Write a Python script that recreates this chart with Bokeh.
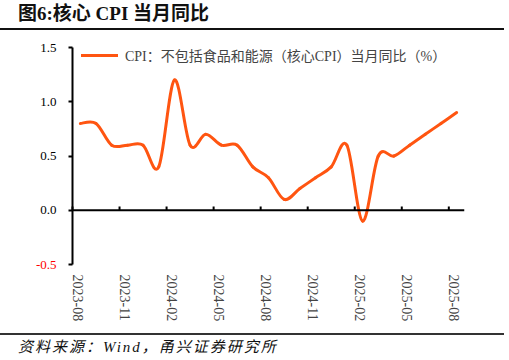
import math
from bokeh.plotting import figure
from bokeh.models import (Div, Legend, LegendItem, FixedTicker, LinearAxis,
                          ColumnDataSource, Range1d)
from bokeh.layouts import column
from bokeh.embed import file_html
from bokeh.resources import INLINE

months = ["2023-08", "2023-09", "2023-10", "2023-11", "2023-12",
          "2024-01", "2024-02", "2024-03", "2024-04", "2024-05", "2024-06",
          "2024-07", "2024-08", "2024-09", "2024-10", "2024-11", "2024-12",
          "2025-01", "2025-02", "2025-03", "2025-04", "2025-05", "2025-06",
          "2025-07", "2025-08"]
core_cpi = [0.8, 0.8, 0.6, 0.6, 0.6, 0.4, 1.2, 0.6, 0.7, 0.6, 0.6,
            0.4, 0.3, 0.1, 0.2, 0.3, 0.4, 0.6, -0.1, 0.5, 0.5, 0.6, 0.7,
            0.8, 0.9]
y_ticks = [-0.5, 0.0, 0.5, 1.0, 1.5]
x_label_every = 3

series_name = "CPI：不包括食品和能源（核心CPI）当月同比（%）"
title_text = "图6:核心 CPI 当月同比"
source_text = "资料来源：Wind，甬兴证券研究所"

LINE_COLOR = "#FF5511"
SERIF = "'Liberation Serif', 'Noto Sans CJK SC', serif"

n = len(core_cpi)
xs = list(range(n))

# Smoothed curve (Catmull-Rom as cubic Bezier segments) through the data points
def pt(i):
    i = max(0, min(n - 1, i))
    return xs[i], core_cpi[i]

seg = dict(x0=[], y0=[], x1=[], y1=[], cx0=[], cy0=[], cx1=[], cy1=[])
for i in range(n - 1):
    xa, ya = pt(i - 1)
    xb, yb = pt(i)
    xc, yc = pt(i + 1)
    xd, yd = pt(i + 2)
    seg["x0"].append(xb); seg["y0"].append(yb)
    seg["x1"].append(xc); seg["y1"].append(yc)
    seg["cx0"].append(xb + (xc - xa) / 6); seg["cy0"].append(yb + (yc - ya) / 6)
    seg["cx1"].append(xc - (xd - xb) / 6); seg["cy1"].append(yc - (yd - yb) / 6)
src = ColumnDataSource(seg)

W = 504
AXIS_X = 72          # pixel where the value axis sits
PAD = 42             # frame extends this far left of the value axis (room for labels)
VPAD = 9             # frame extends this far above/below the value range
DATA_W = 392
DATA_H = 217
px_per_month = DATA_W / n
axis_start = -0.5
x_start = axis_start - PAD / px_per_month
x_end = n - 0.5
y_lo, y_hi = y_ticks[0], y_ticks[-1]
px_per_unit = DATA_H / (y_hi - y_lo)
pad_units = VPAD / px_per_unit

p = figure(width=W, height=303, output_backend="svg", toolbar_location=None,
           x_range=Range1d(x_start, x_end),
           y_range=Range1d(y_lo - pad_units, y_hi + pad_units),
           y_axis_location=None,
           min_border_left=AXIS_X - PAD, min_border_right=W - AXIS_X - DATA_W,
           min_border_top=17 - VPAD, min_border_bottom=69 - VPAD, margin=0)
p.outline_line_color = None
p.xgrid.grid_line_color = None
p.ygrid.grid_line_color = None
p.background_fill_color = "white"
p.border_fill_color = "white"

r = p.bezier(x0="x0", y0="y0", x1="x1", y1="y1", cx0="cx0", cy0="cy0",
             cx1="cx1", cy1="cy1", source=src, line_color=LINE_COLOR,
             line_width=3, line_cap="round", line_join="round")

# value axis (black labels), placed at the start of the data area
neg_ticks = [t for t in y_ticks if t < 0]
common = dict(fixed_location=axis_start, bounds=(y_lo, y_hi),
              minor_tick_line_color=None,
              major_tick_out=4, major_tick_in=0, major_label_text_font=SERIF,
              major_label_text_font_size="13px", major_label_standoff=12)
y_axis = LinearAxis(ticker=FixedTicker(ticks=y_ticks),
                    major_label_overrides={t: ("" if t < 0 else f"{t:.1f}") for t in y_ticks},
                    axis_line_color="black", axis_line_width=2,
                    major_tick_line_color="black", major_tick_line_width=2,
                    major_label_text_color="black", **common)
red_axis = LinearAxis(ticker=FixedTicker(ticks=neg_ticks),
                      major_label_overrides={t: f"{t:.1f}" for t in neg_ticks},
                      axis_line_color=None, major_tick_line_color=None,
                      major_label_text_color="red", **common)
p.add_layout(y_axis, "left")
p.add_layout(red_axis, "left")

# x axis: labels at bottom, axis line at zero
tick_pos = [i - 0.5 for i in range(0, n, x_label_every)]
label_shift = 0.35
label_pos = [t + label_shift for t in tick_pos]
p.xaxis.ticker = FixedTicker(ticks=label_pos)
p.xaxis.major_label_overrides = {t: months[i] for t, i in zip(label_pos, range(0, n, x_label_every))}
p.xaxis.axis_line_color = None
p.xaxis.major_tick_line_color = None
p.xaxis.minor_tick_line_color = None
p.xaxis.major_tick_out = 0
p.xaxis.major_tick_in = 0
p.xaxis.major_label_orientation = -math.pi / 2
p.xaxis.major_label_text_font = SERIF
p.xaxis.major_label_text_font_size = "14px"
p.xaxis.major_label_standoff = 1

p.segment(x0=[axis_start], y0=[0], x1=[x_end], y1=[0], line_color="black", line_width=2)
p.segment(x0=tick_pos, y0=[0] * len(tick_pos), x1=tick_pos,
          y1=[0.035] * len(tick_pos), line_color="black", line_width=2)

legend = Legend(items=[LegendItem(label=series_name, renderers=[r])],
                location=(PAD + 9, DATA_H + VPAD - 18), background_fill_alpha=0,
                border_line_color=None, label_text_font=SERIF,
                label_text_font_size="14px", glyph_width=37, glyph_height=20,
                label_height=20, label_standoff=7, margin=0, padding=2)
p.add_layout(legend)

title = Div(text=title_text, width=W, height=30, margin=0,
            styles={"font-family": "'Liberation Serif', 'Noto Sans CJK SC', serif",
                    "font-weight": "bold", "font-size": "19px", "color": "#111",
                    "border-bottom": "2px solid #111", "width": f"{W}px",
                    "height": "30px", "padding-left": "18px", "padding-top": "4px",
                    "line-height": "20px", "box-sizing": "border-box"})
footer = Div(text=source_text, width=W, height=24, margin=0,
             styles={"font-family": "'Liberation Serif', 'Noto Sans CJK SC', serif",
                     "font-style": "italic", "font-size": "15px", "color": "#111",
                     "border-top": "2px solid #333", "width": f"{W}px",
                     "height": "24px", "padding-left": "18px", "padding-top": "2px",
                     "letter-spacing": "2px", "box-sizing": "border-box"})

layout = column(title, p, footer, spacing=0)
open("out.html", "w").write(file_html(layout, INLINE))
